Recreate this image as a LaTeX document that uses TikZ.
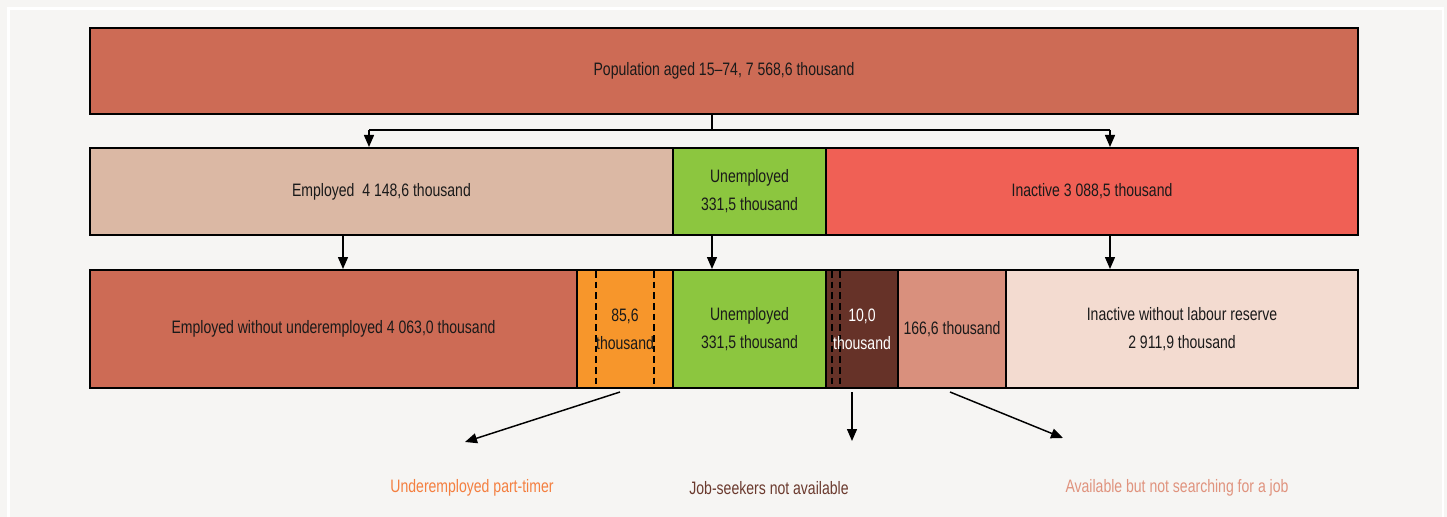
\documentclass[tikz,border=0pt]{standalone}
\usepackage{fontspec}
\setmainfont{Liberation Sans}[FakeStretch=0.78]
\usetikzlibrary{arrows.meta}
\definecolor{bg}{HTML}{F6F5F3}
\definecolor{popc}{HTML}{CD6B55}
\definecolor{empc}{HTML}{DBB8A4}
\definecolor{unc}{HTML}{8CC63F}
\definecolor{inc}{HTML}{F06055}
\definecolor{orc}{HTML}{F7962B}
\definecolor{brc}{HTML}{663228}
\definecolor{sac}{HTML}{D9907D}
\definecolor{ltc}{HTML}{F3DBD0}
\definecolor{orlab}{HTML}{F47F40}
\definecolor{brlab}{HTML}{6B3A2E}
\definecolor{salab}{HTML}{E0937E}
\definecolor{txt}{HTML}{1A1A1A}
\begin{document}
\begin{tikzpicture}[x=0.75pt,y=-0.75pt,
  seg/.style={draw=black, line width=1.5pt, inner sep=0pt, align=center,
    font=\fontsize{13.5}{21}\selectfont, text=txt},
  lab/.style={inner sep=0pt, font=\fontsize{13.5}{21}\selectfont},
  arr/.style={line width=1.1pt, -{Triangle[length=9pt,width=7.5pt]}},
  dsh/.style={line width=1.1pt, dash pattern=on 5pt off 3pt}]
\fill[bg] (0,0) rectangle (1447,517);
\useasboundingbox (0,0) rectangle (1447,517);
\draw[white, line width=2pt] (8.5,8.5) rectangle (1443,530);
% top
\node[seg, fill=popc, minimum width=1268*0.75pt, minimum height=86*0.75pt] (pop) at (724,71) {Population aged 15–74, 7 568,6 thousand};
% row 2
\node[seg, fill=empc, minimum width=583*0.75pt, minimum height=87*0.75pt] (emp) at (381.5,191.5) {Employed\ \ 4 148,6 thousand};
\node[seg, fill=unc, minimum width=153*0.75pt, minimum height=87*0.75pt] (une) at (749.5,191.5) {Unemployed\\331,5 thousand};
\node[seg, fill=inc, minimum width=532*0.75pt, minimum height=87*0.75pt] (ina) at (1092,191.5) {Inactive 3 088,5 thousand};
% row 3
\node[seg, fill=popc, minimum width=487*0.75pt, minimum height=118*0.75pt] (ewo) at (333.5,329) {Employed without underemployed 4 063,0 thousand};
\node[seg, fill=orc, minimum width=96*0.75pt, minimum height=118*0.75pt] (upt) at (625,329) {};
\node[seg, fill=unc, minimum width=153*0.75pt, minimum height=118*0.75pt] (une2) at (749.5,329) {Unemployed\\331,5 thousand};
\node[seg, fill=brc, minimum width=72*0.75pt, minimum height=118*0.75pt] (jsn) at (862,329) {};
\node[seg, fill=sac, minimum width=108*0.75pt, minimum height=118*0.75pt] (abn) at (952,329) {166,6 thousand};
\node[seg, fill=ltc, minimum width=352*0.75pt, minimum height=118*0.75pt] (iwl) at (1182,329) {Inactive without labour reserve\\2 911,9 thousand};
% dashed lines
\draw[dsh] (596,271) -- (596,387);
\draw[dsh] (654,271) -- (654,387);
\draw[dsh] (832,271) -- (832,387);
\draw[dsh] (840,271) -- (840,387);
\node[lab, align=center, text=txt] (uptt) at (upt.center) {85,6\\thousand};
\node[lab, align=center, text=white] (jsnt) at (jsn.center) {10,0\\thousand};
% top connectors
\coordinate (jl) at (369,130);
\coordinate (jr) at (1110,130);
\coordinate (jm) at (712,130);
\draw[line width=1.1pt] (pop.south -| jm) -- (jm);
\draw[line width=1.1pt] (jl) -- (jr);
\draw[arr] (jl) -- (jl |- emp.north);
\draw[arr] (jr) -- (jr |- ina.north);
% row2 -> row3
\draw[arr] (emp.south -| 343,0) -- (ewo.north -| 343,0);
\draw[arr] (une.south -| 712,0) -- (une2.north -| 712,0);
\draw[arr] (ina.south -| 1110,0) -- (iwl.north -| 1110,0);
% bottom arrows
\coordinate (a1) at (465,442);
\coordinate (a2) at (852,441);
\coordinate (a3) at (1063,438);
\draw[arr] (upt.south -| 620,0) ++(0,3) -- (a1);
\draw[arr] (jsn.south -| 852,0) ++(0,3) -- (a2);
\draw[arr] (abn.south -| 950,0) ++(0,3) -- (a3);
% labels
\node[lab, text=orlab] (l1) at (472,488) {Underemployed part-timer};
\node[lab, text=brlab] (l2) at (769,488) {Job-seekers not available};
\node[lab, text=salab] (l3) at (1177,488) {Available but not searching for a job};
\end{tikzpicture}
\end{document}
